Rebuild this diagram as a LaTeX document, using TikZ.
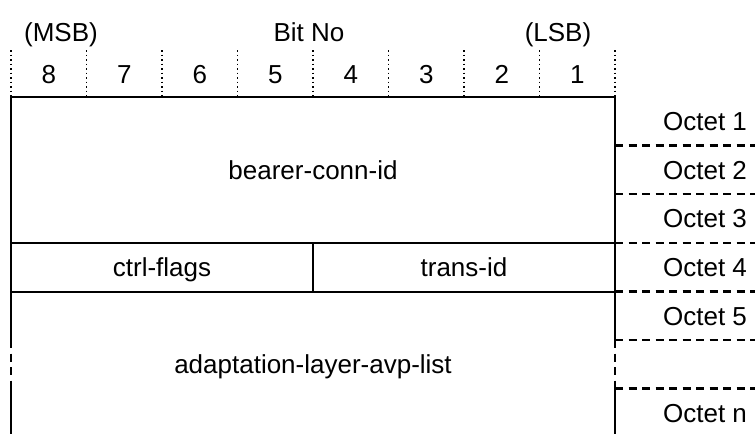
\documentclass[tikz,border=0pt]{standalone}
\usepackage{fontspec}
\setmainfont{Liberation Sans}
\begin{document}
\begin{tikzpicture}[x=1pt,y=-1pt,
  txt/.style={anchor=base,inner sep=0pt,font=\fontsize{26}{30}\selectfont},
  solidline/.style={line width=2pt},
  dashline/.style={line width=2.2pt,dash pattern=on 8pt off 5.5pt},
  dotline/.style={line width=1.3pt,dash pattern=on 1.5pt off 3pt}]
\useasboundingbox[fill=white] (0,0) rectangle (755,434);
% column guides
\foreach \i in {0,...,8}{
  \coordinate (ct\i) at ({11+75.5*\i},50);
  \coordinate (cb\i) at ({11+75.5*\i},97);
  \draw[dotline] (ct\i) -- (cb\i);
}
\foreach \i/\b in {0/8,1/7,2/6,3/5,4/4,5/3,6/2,7/1}{
  \node[txt] (bit\b) at ({11+75.5*(\i+0.5)},83) {\b};
}
\node[txt] (msb) at (61,41) {(MSB)};
\node[txt] (bitno) at (309,41) {Bit No};
\node[txt] (lsb) at (558,41) {(LSB)};
% coordinates
\coordinate (TL) at (11,97);
\coordinate (TR) at (615,97);
\coordinate (L4a) at (11,243);
\coordinate (R4a) at (615,243);
\coordinate (L4b) at (11,291.5);
\coordinate (R4b) at (615,291.5);
\coordinate (M4a) at (313,243);
\coordinate (M4b) at (313,291.5);
\coordinate (L5) at (11,340);
\coordinate (R5) at (615,340);
\coordinate (L6) at (11,388.5);
\coordinate (R6) at (615,388.5);
\coordinate (LB) at (11,434);
\coordinate (RB) at (615,434);
% box
\draw[solidline] (L5) -- (TL) -- (TR) -- (R5);
\draw[solidline] (L4a) -- (R4a);
\draw[solidline] (L4b) -- (R4b);
\draw[solidline] (M4a) -- (M4b);
\draw[dashline] (L5) -- (L6);
\draw[dashline] (R5) -- (R6);
\draw[solidline] (L6) -- (LB);
\draw[solidline] (R6) -- (RB);
% octet separators
\foreach \y/\n in {145.5/1,194/2,243/3,291.5/4,340/5,388.5/6}{
  \coordinate (sa\n) at (615,\y);
  \coordinate (sb\n) at (755,\y);
  \draw[dashline] (sa\n) -- (sb\n);
}
% field labels
\node[txt] (bearer) at (313,179) {bearer-conn-id};
\node[txt] (ctrl) at (162,276.5) {ctrl-flags};
\node[txt] (trans) at (464,276.5) {trans-id};
\node[txt] (avp) at (313,373.5) {adaptation-layer-avp-list};
% octet labels
\node[txt] (o1) at (705,130.5) {Octet 1};
\node[txt] (o2) at (705,179) {Octet 2};
\node[txt] (o3) at (705,227.5) {Octet 3};
\node[txt] (o4) at (705,276.5) {Octet 4};
\node[txt] (o5) at (705,325) {Octet 5};
\node[txt] (on) at (705,422) {Octet n};
\end{tikzpicture}
\end{document}
